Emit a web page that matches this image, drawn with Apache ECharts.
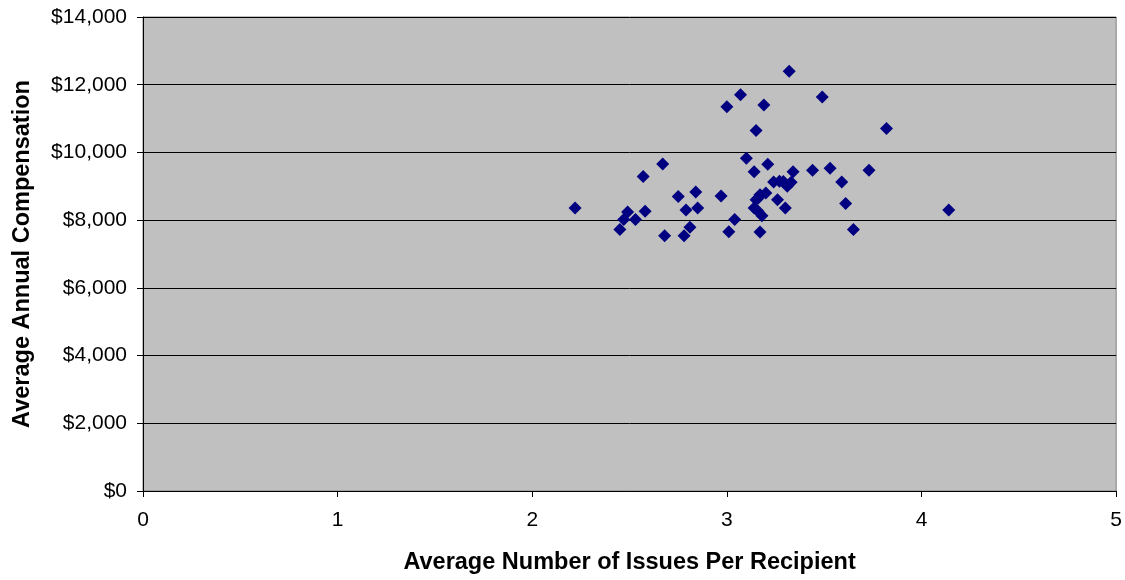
<!DOCTYPE html>
<html>
<head>
<meta charset="utf-8">
<script src="https://cdn.jsdelivr.net/npm/echarts@6/dist/echarts.min.js"></script>
<style>
  html, body { margin: 0; padding: 0; background: #ffffff; }
  #chart { width: 1125px; height: 580px; }
</style>
</head>
<body>
<div id="chart"></div>
<script>
// Average number of issues per recipient vs. average annual compensation
const issuesPerRecipient = [
  2.22, 2.45, 2.47, 2.49, 2.53, 2.58, 2.57, 2.67, 2.68, 2.75,
  2.78, 2.79, 2.81, 2.84, 2.85, 2.97, 3.00, 3.07, 3.01, 3.04,
  3.10, 3.14, 3.15, 3.19, 3.21, 3.32, 3.49, 3.82, 3.34, 3.44,
  3.53, 3.73, 3.59, 3.61, 3.65, 4.14, 3.17, 3.30, 3.26, 3.24,
  3.27, 3.29, 3.31, 3.33, 3.20, 3.16, 3.14, 3.16, 3.18, 3.17,
  3.15
];
const annualCompensation = [
  8360, 7720, 8020, 8240, 8020, 8260, 9290, 9660, 7540, 8700,
  7540, 8300, 7790, 8830, 8360, 8710, 11350, 11700, 7660, 8020,
  9830, 9430, 10650, 11400, 9650, 12400, 11640, 10710, 9430, 9470,
  9530, 9470, 9130, 8490, 7720, 8300, 7650, 8360, 8600, 9130,
  9150, 9140, 9000, 9120, 8800, 8650, 8360, 8260, 8130, 8750,
  8600
];
const xTicks = [0, 1, 2, 3, 4, 5];
const yTicks = [0, 2000, 4000, 6000, 8000, 10000, 12000, 14000];

const points = issuesPerRecipient.map((x, i) => [x, annualCompensation[i]]);

const chart = echarts.init(document.getElementById('chart'), null, { renderer: 'canvas' });
chart.setOption({
  animation: false,
  backgroundColor: '#ffffff',
  grid: {
    left: 143, right: 7, top: 17, bottom: 88,
    show: true,
    backgroundColor: '#c0c0c0',
    borderColor: '#808080',
    borderWidth: 1
  },
  xAxis: {
    type: 'value',
    min: xTicks[0],
    max: xTicks[xTicks.length - 1],
    interval: 1,
    name: 'Average Number of Issues Per Recipient',
    nameLocation: 'middle',
    nameGap: 60,
    nameTextStyle: { fontFamily: 'Liberation Sans', fontWeight: 'bold', fontSize: 23.5, color: '#000' },
    axisLine: { show: true, lineStyle: { color: '#000', width: 1 } },
    axisTick: { show: true, length: 6, lineStyle: { color: '#000' } },
    axisLabel: { fontFamily: 'Liberation Sans', fontSize: 21, color: '#000', margin: 19 },
    splitLine: { show: false }
  },
  yAxis: {
    type: 'value',
    min: yTicks[0],
    max: yTicks[yTicks.length - 1],
    interval: 2000,
    name: 'Average Annual Compensation',
    nameLocation: 'middle',
    nameGap: 108,
    nameRotate: 90,
    nameTextStyle: { fontFamily: 'Liberation Sans', fontWeight: 'bold', fontSize: 23.5, color: '#000' },
    axisLine: { show: true, lineStyle: { color: '#000', width: 1 } },
    axisTick: { show: true, length: 6, lineStyle: { color: '#000' } },
    axisLabel: {
      fontFamily: 'Liberation Sans', fontSize: 21, color: '#000', margin: 16,
      formatter: v => '$' + v.toLocaleString('en-US')
    },
    splitLine: { show: true, lineStyle: { color: '#000', width: 1 } }
  },
  series: [{
    type: 'scatter',
    data: points,
    symbol: 'diamond',
    symbolSize: [13, 13],
    itemStyle: { color: '#000080', opacity: 1 }
  }]
});
</script>
</body>
</html>
